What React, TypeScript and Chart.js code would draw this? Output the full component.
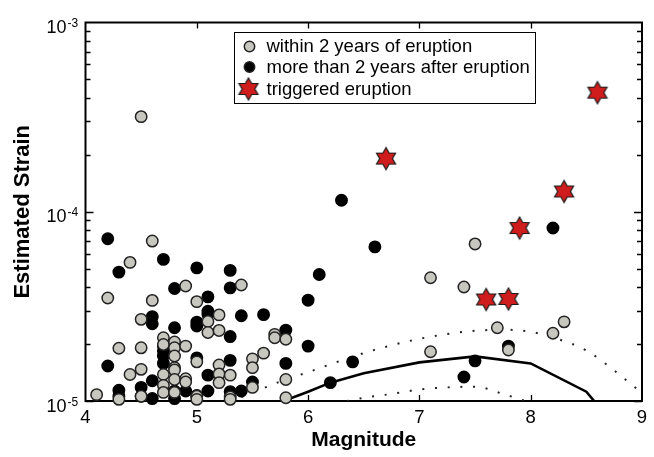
import React, { useEffect, useRef } from "react";
import { Chart, registerables } from "chart.js";

Chart.register(...registerables);

// ---------- data ----------
const xTickValues = [4, 5, 6, 7, 8, 9];
const yDecades = [1e-5, 1e-4, 1e-3];
const yDecadeExponents = ["-5", "-4", "-3"];

const legendLabels = [
  "within 2 years of eruption",
  "more than 2 years after eruption",
  "triggered eruption",
];

const withinMag = [
  4.5, 4.6, 4.4, 4.2, 4.6, 4.9, 5.4, 5.0, 4.5, 5.2, 5.1, 5.1, 5.2, 5.7, 5.7, 5.8,
  5.6, 5.5, 5.5, 5.5, 5.8, 5.8, 4.3, 4.5, 4.7, 4.7, 4.8, 4.8, 4.8, 4.9, 5.0, 4.8,
  4.8, 4.5, 4.4, 4.7, 4.8, 4.9, 4.9, 5.2, 5.2, 5.2, 5.3, 4.7, 4.7, 4.8, 4.1, 4.3,
  4.5, 5.0, 5.0, 5.3, 5.3, 7.5, 7.1, 7.4, 7.7, 8.3, 8.2, 7.1, 7.8,
];
const withinStrain = [
  3.18e-4, 7.0e-5, 5.4e-5, 3.5e-5, 3.4e-5, 4.05e-5, 4.1e-5, 3.35e-5, 2.7e-5, 2.85e-5,
  2.63e-5, 2.3e-5, 2.36e-5, 2.25e-5, 2.16e-5, 2.12e-5, 1.79e-5, 1.67e-5, 1.5e-5, 1.18e-5,
  1.3e-5, 1.04e-5, 1.9e-5, 1.91e-5, 2.16e-5, 1.99e-5, 2.05e-5, 1.91e-5, 1.73e-5, 1.95e-5,
  1.61e-5, 1.5e-5, 1.46e-5, 1.47e-5, 1.38e-5, 1.38e-5, 1.3e-5, 1.31e-5, 1.26e-5, 1.55e-5,
  1.39e-5, 1.25e-5, 1.37e-5, 1.21e-5, 1.11e-5, 1.11e-5, 1.08e-5, 1.02e-5, 1.06e-5, 1.06e-5,
  1.02e-5, 1.05e-5, 1.02e-5, 6.76e-5, 4.48e-5, 4.0e-5, 2.44e-5, 2.62e-5, 2.28e-5, 1.82e-5,
  1.86e-5,
];

const afterMag = [
  4.2, 4.3, 4.7, 5.0, 5.3, 5.3, 4.8, 5.1, 4.6, 4.6, 5.0, 5.0, 5.1, 5.1, 4.8, 5.4,
  5.6, 5.3, 5.8, 6.0, 6.1, 6.0, 6.3, 6.4, 6.2, 4.2, 4.7, 4.7, 4.7, 4.7, 5.0, 5.3,
  5.1, 5.8, 4.6, 5.5, 5.4, 5.1, 4.3, 4.3, 4.5, 4.5, 4.6, 4.8, 4.8, 4.9, 5.3, 5.0,
  6.6, 8.2, 7.5, 7.4, 7.8,
];
const afterStrain = [
  7.2e-5, 4.8e-5, 5.6e-5, 5.05e-5, 4.9e-5, 3.96e-5, 3.93e-5, 3.55e-5, 2.79e-5, 2.56e-5,
  2.61e-5, 2.49e-5, 2.98e-5, 2.87e-5, 2.44e-5, 2.82e-5, 2.86e-5, 2.19e-5, 2.37e-5, 3.41e-5,
  4.66e-5, 1.95e-5, 1.15e-4, 1.61e-5, 1.25e-5, 1.53e-5, 1.95e-5, 1.84e-5, 1.73e-5, 1.58e-5,
  1.69e-5, 1.64e-5, 1.37e-5, 1.58e-5, 1.28e-5, 1.26e-5, 1.13e-5, 1.13e-5, 1.14e-5, 1.06e-5,
  1.18e-5, 1.06e-5, 1.03e-5, 1.13e-5, 1.03e-5, 1.13e-5, 1.12e-5, 1.07e-5, 6.52e-5, 8.2e-5,
  1.63e-5, 1.34e-5, 1.95e-5,
];

const triggeredMag = [6.7, 8.6, 8.3, 7.9, 7.6, 7.8];
const triggeredStrain = [1.91e-4, 4.26e-4, 1.28e-4, 8.2e-5, 3.44e-5, 3.46e-5];

const curveMag = [5.78, 6.0, 6.2, 6.5, 7.0, 7.5, 8.0, 8.5, 8.57];
const curveStrain = [1.0e-5, 1.12e-5, 1.25e-5, 1.4e-5, 1.6e-5, 1.72e-5, 1.58e-5, 1.12e-5, 1.0e-5];

const upperMag = [5.4, 5.6, 5.8, 6.0, 6.25, 6.5, 6.75, 7.0, 7.25, 7.5, 7.75, 8.0, 8.25, 8.5, 8.75, 9.0];
const upperStrain = [
  1.05e-5, 1.17e-5, 1.3e-5, 1.42e-5, 1.6e-5, 1.79e-5, 1.97e-5, 2.13e-5, 2.26e-5, 2.35e-5,
  2.38e-5, 2.32e-5, 2.12e-5, 1.85e-5, 1.45e-5, 1.1e-5,
];

const lowerMag = [6.35, 6.5, 6.75, 7.0, 7.25, 7.5, 7.75, 7.95];
const lowerStrain = [1.0e-5, 1.04e-5, 1.09e-5, 1.15e-5, 1.18e-5, 1.19e-5, 1.09e-5, 1.0e-5];

// ---------- styles ----------
const FONT = "'Liberation Sans', Arial, Helvetica, sans-serif";
const GRAY = "#c7c7bf";
const RED = "#cf1d1d";

function toPoints(xs: number[], ys: number[]) {
  return xs.map((x, i) => ({ x, y: ys[i] }));
}

function makeStar(r: number): HTMLCanvasElement {
  const size = Math.ceil(r * 2 + 4);
  const c = document.createElement("canvas");
  c.width = size;
  c.height = size;
  const ctx = c.getContext("2d")!;
  const cx = size / 2;
  const cy = size / 2;
  const ri = r / Math.sqrt(3);
  ctx.beginPath();
  for (let i = 0; i < 12; i++) {
    const a = -Math.PI / 2 + (i * Math.PI) / 6;
    const rr = i % 2 === 0 ? r : ri;
    const px = cx + rr * Math.cos(a);
    const py = cy + rr * Math.sin(a);
    if (i === 0) ctx.moveTo(px, py);
    else ctx.lineTo(px, py);
  }
  ctx.closePath();
  ctx.fillStyle = RED;
  ctx.fill();
  ctx.lineWidth = 1.2;
  ctx.strokeStyle = "#1a1a1a";
  ctx.stroke();
  return c;
}

export default function App() {
  const ref = useRef<HTMLCanvasElement | null>(null);

  useEffect(() => {
    const canvas = ref.current;
    if (!canvas) return;
    const star = makeStar(11);

    const framePlugin = {
      id: "frameTicks",
      beforeDatasetsDraw(chart: any) {
        const { ctx, chartArea } = chart;
        const { left, right, top, bottom } = chartArea;
        const xs = chart.scales.x;
        const ys = chart.scales.y;
        ctx.save();
        ctx.strokeStyle = "#000";
        ctx.lineWidth = 1.3;
        ctx.beginPath();
        xTickValues.slice(1, -1).forEach((v) => {
          const px = Math.round(xs.getPixelForValue(v)) + 0.5;
          ctx.moveTo(px, bottom);
          ctx.lineTo(px, bottom - 6);
          ctx.moveTo(px, top);
          ctx.lineTo(px, top + 6);
        });
        yDecades.slice(0, -1).forEach((d) => {
          for (let k = 1; k <= 9; k++) {
            const py = Math.round(ys.getPixelForValue(d * k)) + 0.5;
            const len = k === 1 ? 8 : 5;
            ctx.moveTo(left, py);
            ctx.lineTo(left + len, py);
            ctx.moveTo(right, py);
            ctx.lineTo(right - len, py);
          }
        });
        ctx.stroke();
        ctx.lineWidth = 2;
        ctx.strokeRect(left, top, right - left, bottom - top);
        ctx.restore();
      },
      afterDraw(chart: any) {
        const { ctx } = chart;
        const ys = chart.scales.y;
        ctx.save();
        ctx.fillStyle = "#000";
        ctx.textBaseline = "alphabetic";
        ctx.textAlign = "left";
        yDecades.forEach((d, i) => {
          const py = ys.getPixelForValue(d);
          ctx.font = `18px ${FONT}`;
          ctx.fillText("10", 46.5, py + 10.5);
          const w = ctx.measureText("10").width;
          ctx.font = `12px ${FONT}`;
          ctx.fillText(yDecadeExponents[i], 46.5 + w + 1, py + 4.5);
        });

        // legend
        const bx = 234.5, by = 32.5, bw = 301, bh = 71;
        ctx.fillStyle = "#fff";
        ctx.fillRect(bx, by, bw, bh);
        ctx.strokeStyle = "#000";
        ctx.lineWidth = 1;
        ctx.strokeRect(bx, by, bw, bh);
        const rows = [46.5, 67, 89];
        // gray marker
        ctx.beginPath();
        ctx.arc(249.5, rows[0], 5.2, 0, Math.PI * 2);
        ctx.fillStyle = GRAY;
        ctx.fill();
        ctx.lineWidth = 1.5;
        ctx.strokeStyle = "#222";
        ctx.stroke();
        // black marker
        ctx.beginPath();
        ctx.arc(249.5, rows[1], 5.2, 0, Math.PI * 2);
        ctx.fillStyle = "#000";
        ctx.fill();
        ctx.stroke();
        // star
        ctx.drawImage(star, 248.5 - star.width / 2, rows[2] - star.height / 2);
        ctx.fillStyle = "#000";
        ctx.font = `18.5px ${FONT}`;
        ctx.textBaseline = "middle";
        legendLabels.forEach((t, i) => {
          ctx.fillText(t, 266.5, rows[i] + 0.5);
        });
        ctx.restore();
      },
    };

    const chart = new Chart(canvas, {
      type: "scatter",
      data: {
        datasets: [
          {
            label: legendLabels[2],
            data: toPoints(triggeredMag, triggeredStrain),
            pointStyle: star as any,
            pointRadius: 11,
            order: 0,
            clip: false as any,
          },
          {
            label: legendLabels[0],
            data: toPoints(withinMag, withinStrain),
            backgroundColor: GRAY,
            borderColor: "#222",
            borderWidth: 1.5,
            pointRadius: 5.7,
            order: 1,
            clip: false as any,
          },
          {
            label: legendLabels[1],
            data: toPoints(afterMag, afterStrain),
            backgroundColor: "#000",
            borderColor: "#000",
            borderWidth: 1.5,
            pointRadius: 5.7,
            order: 2,
            clip: false as any,
          },
          {
            label: "curve",
            data: toPoints(curveMag, curveStrain),
            showLine: true,
            borderColor: "#000",
            borderWidth: 2.6,
            pointRadius: 0,
            order: 3,
          },
          {
            label: "upper",
            data: toPoints(upperMag, upperStrain),
            showLine: true,
            borderColor: "#222",
            borderWidth: 2,
            borderDash: [2, 10.7],
            pointRadius: 0,
            cubicInterpolationMode: "monotone",
            order: 3,
          },
          {
            label: "lower",
            data: toPoints(lowerMag, lowerStrain),
            showLine: true,
            borderColor: "#222",
            borderWidth: 2,
            borderDash: [2, 10.7],
            pointRadius: 0,
            cubicInterpolationMode: "monotone",
            order: 3,
          },
        ] as any,
      },
      options: {
        responsive: false,
        animation: false,
        devicePixelRatio: 1,
        events: [],
        layout: { padding: { left: 0, right: 12, top: 22.5, bottom: 0 } },
        plugins: {
          legend: { display: false },
          tooltip: { enabled: false },
        },
        scales: {
          x: {
            type: "linear",
            min: 4,
            max: 9,
            afterFit: (s: any) => {
              s.height = 56;
            },
            ticks: {
              stepSize: 1,
              padding: 6,
              color: "#000",
              font: { size: 18.5, family: FONT },
              callback: (v: any) => (xTickValues.includes(Number(v)) ? String(v) : ""),
            },
            grid: { display: false, drawTicks: false },
            border: { display: false },
            title: {
              display: true,
              text: "Magnitude",
              color: "#000",
              font: { size: 21, weight: "bold", family: FONT },
              padding: { top: 0, bottom: 4 },
            },
          },
          y: {
            type: "logarithmic",
            min: 1e-5,
            max: 1e-3,
            afterFit: (s: any) => {
              s.width = 85.5;
            },
            ticks: { display: false },
            grid: { display: false, drawTicks: false },
            border: { display: false },
            title: {
              display: true,
              text: "Estimated Strain",
              color: "#000",
              font: { size: 22, weight: "bold", family: FONT },
              padding: { top: 10, bottom: 0 },
            },
          },
        },
      } as any,
      plugins: [framePlugin],
    });
    return () => chart.destroy();
  }, []);

  return (
    <div style={{ position: "absolute", left: 0, top: 0, width: 654, height: 457, background: "#fff" }}>
      <canvas ref={ref} width={654} height={457} />
    </div>
  );
}
